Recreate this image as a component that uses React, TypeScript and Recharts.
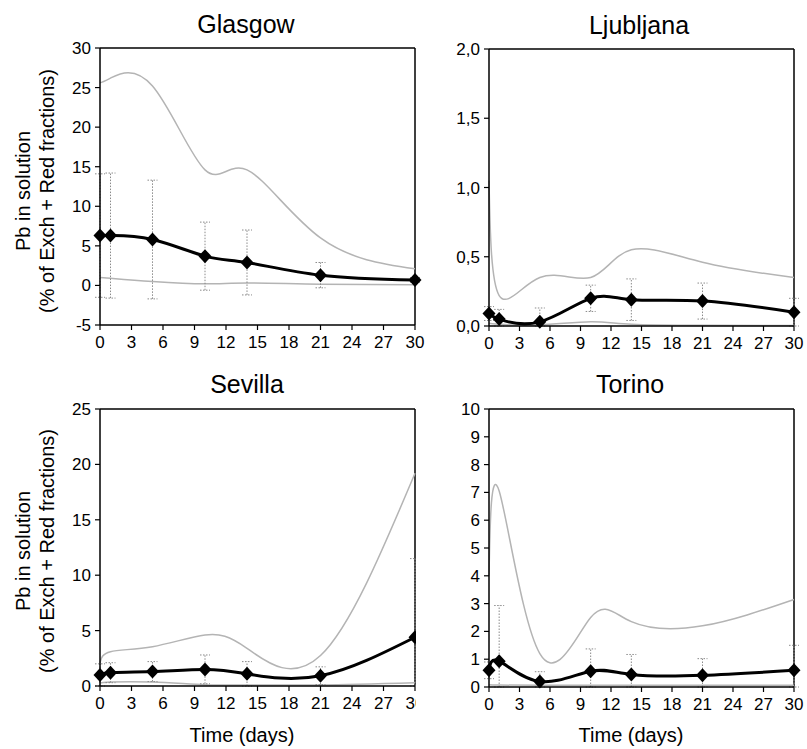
import { ComposedChart, Line, XAxis, YAxis, ErrorBar, ReferenceLine } from 'recharts'

const DAYS = [0, 1, 5, 10, 14, 21, 30]
const X_TICKS = [0, 3, 6, 9, 12, 15, 18, 21, 24, 27, 30]

const GLASGOW_MEAN = [6.3, 6.3, 5.8, 3.7, 2.9, 1.3, 0.7]
const GLASGOW_ERR = [7.8, 7.9, 7.5, 4.3, 4.1, 1.6, 0.3]
const GLASGOW_MAX = [25.6, 26.2, 25.2, 14.6, 14.6, 6.0, 2.1]
const GLASGOW_MIN = [1.0, 0.9, 0.5, 0.2, 0.3, 0.15, 0.1]
const GLASGOW_TICKS = [-5, 0, 5, 10, 15, 20, 25, 30]

const LJUBLJANA_MEAN = [0.09, 0.05, 0.03, 0.2, 0.19, 0.18, 0.1]
const LJUBLJANA_ERR = [0.05, 0.07, 0.1, 0.095, 0.15, 0.13, 0.1]
const LJUBLJANA_MAX = [1.05, 0.22, 0.35, 0.35, 0.55, 0.46, 0.35]
const LJUBLJANA_MIN = [0.02, 0.012, 0.008, 0.03, 0.012, 0.005, 0.004]
const LJUBLJANA_TICKS = [0, 0.5, 1, 1.5, 2]

const SEVILLA_MEAN = [1.0, 1.2, 1.3, 1.5, 1.1, 0.93, 4.4]
const SEVILLA_ERR = [1.0, 0.9, 0.9, 1.3, 1.1, 0.8, 7.1]
const SEVILLA_MAX = [2.1, 3.1, 3.55, 4.6, 3.4, 2.75, 19.2]
const SEVILLA_MIN = [0.25, 0.35, 0.35, 0.12, 0.1, 0.1, 0.3]
const SEVILLA_TICKS = [0, 5, 10, 15, 20, 25]

const TORINO_MEAN = [0.6, 0.93, 0.2, 0.57, 0.45, 0.42, 0.6]
const TORINO_ERR = [0.3, 2.0, 0.35, 0.8, 0.72, 0.6, 0.9]
const TORINO_MAX = [4.0, 7.05, 1.2, 2.5, 2.35, 2.2, 3.15]
const TORINO_MIN = [0.08, 0.07, 0.06, 0.06, 0.06, 0.06, 0.06]
const TORINO_TICKS = [0, 1, 2, 3, 4, 5, 6, 7, 8, 9, 10]

const FONT = '"Liberation Sans", Arial, sans-serif'
const GRAY = '#b4b4b4'

// error bars stop at the bottom of the axis, like in the original figure
function rows(mean: number[], err: number[], max: number[], min: number[], floor: number) {
  return DAYS.map((d, i) => ({
    day: d,
    mean: mean[i],
    err: [Math.min(err[i], mean[i] - floor), err[i]],
    max: max[i],
    min: min[i],
  }))
}

const Diamond = (p: any) => {
  const { cx, cy, index } = p
  if (cx == null || cy == null) return <g key={index} />
  return (
    <path key={index} d={`M${cx},${cy - 7}L${cx + 6.5},${cy}L${cx},${cy + 7}L${cx - 6.5},${cy}Z`} fill="#000" />
  )
}

type PanelProps = {
  data: any[]
  domain: [number, number]
  ticks: number[]
  left: number
  right: number
  top: number
  bottom: number
  fmt?: (v: number) => string
  clipRight?: number
}

function Panel({ data, domain, ticks, left, right, top, bottom, fmt, clipRight }: PanelProps) {
  const yW = 50
  const m = { top: 10, right: 22, bottom: 0, left: 0 }
  const xH = 40
  const width = right - left + yW + m.right
  const height = bottom - top + m.top + xH
  const boxLeft = left - yW
  const boxWidth = clipRight ? clipRight - boxLeft : width
  const tick = { fontSize: 17, fill: '#000', fontFamily: FONT }
  return (
    <div style={{ position: 'absolute', left: boxLeft, top: top - m.top, width: boxWidth, height, overflow: 'hidden' }}>
      <ComposedChart width={width} height={height} data={data} margin={m}>
        <XAxis
          dataKey="day" type="number" domain={[0, 30]} ticks={X_TICKS} interval={0}
          height={xH} tickSize={5} tickMargin={6} tick={tick}
          axisLine={{ stroke: '#000', strokeWidth: 1.5 }} tickLine={{ stroke: '#000', strokeWidth: 1.2 }}
        />
        <YAxis
          type="number" domain={domain} ticks={ticks} interval={0} width={yW}
          tickSize={5} tickMargin={4} tick={tick} tickFormatter={fmt}
          axisLine={{ stroke: '#000', strokeWidth: 1.5 }} tickLine={{ stroke: '#000', strokeWidth: 1.2 }}
        />
        <ReferenceLine y={domain[1]} stroke="#000" strokeWidth={1.5} />
        <ReferenceLine x={30} stroke="#000" strokeWidth={1.5} />
        <Line dataKey="max" type="natural" stroke={GRAY} strokeWidth={1.5} dot={false} isAnimationActive={false} />
        <Line dataKey="min" type="natural" stroke={GRAY} strokeWidth={1.5} dot={false} isAnimationActive={false} />
        <Line dataKey="mean" type="natural" stroke="#000" strokeWidth={3} dot={Diamond} activeDot={false} isAnimationActive={false}>
          <ErrorBar dataKey="err" width={5} stroke="#8a8a8a" strokeWidth={1} strokeDasharray="1.5 1.5" />
        </Line>
      </ComposedChart>
    </div>
  )
}

const comma = (v: number) => v.toFixed(1).replace('.', ',')

export default function App() {
  const label = { fontFamily: FONT, fontSize: 20, fill: '#000' }
  const title = { fontFamily: FONT, fontSize: 25, fill: '#000' }
  return (
    <div style={{ position: 'absolute', left: 0, top: 0, width: 807, height: 749, background: '#fff' }}>
      <Panel data={rows(GLASGOW_MEAN, GLASGOW_ERR, GLASGOW_MAX, GLASGOW_MIN, -5)} domain={[-5, 30]} ticks={GLASGOW_TICKS}
        left={100} right={415} top={48} bottom={325} />
      <Panel data={rows(LJUBLJANA_MEAN, LJUBLJANA_ERR, LJUBLJANA_MAX, LJUBLJANA_MIN, 0)} domain={[0, 2]} ticks={LJUBLJANA_TICKS}
        left={489} right={794} top={49} bottom={326} fmt={comma} />
      <Panel data={rows(SEVILLA_MEAN, SEVILLA_ERR, SEVILLA_MAX, SEVILLA_MIN, 0)} domain={[0, 25]} ticks={SEVILLA_TICKS}
        left={100} right={415} top={409} bottom={686} clipRight={416} />
      <Panel data={rows(TORINO_MEAN, TORINO_ERR, TORINO_MAX, TORINO_MIN, 0)} domain={[0, 10]} ticks={TORINO_TICKS}
        left={489} right={794} top={409} bottom={687} />
      <svg width={807} height={749} style={{ position: 'absolute', left: 0, top: 0, pointerEvents: 'none' }}>
        <text x={246} y={33} textAnchor="middle" {...title}>Glasgow</text>
        <text x={639} y={34} textAnchor="middle" {...title}>Ljubljana</text>
        <text x={247} y={393} textAnchor="middle" {...title}>Sevilla</text>
        <text x={630} y={393} textAnchor="middle" {...title}>Torino</text>
        <text transform="translate(30,191) rotate(-90)" textAnchor="middle" {...label}>Pb in solution</text>
        <text transform="translate(54,191) rotate(-90)" textAnchor="middle" {...label}>(% of Exch + Red fractions)</text>
        <text transform="translate(30,551) rotate(-90)" textAnchor="middle" {...label}>Pb in solution</text>
        <text transform="translate(54,551) rotate(-90)" textAnchor="middle" {...label}>(% of Exch + Red fractions)</text>
        <text x={242} y={742} textAnchor="middle" {...label}>Time (days)</text>
        <text x={631} y={742} textAnchor="middle" {...label}>Time (days)</text>
      </svg>
    </div>
  )
}
